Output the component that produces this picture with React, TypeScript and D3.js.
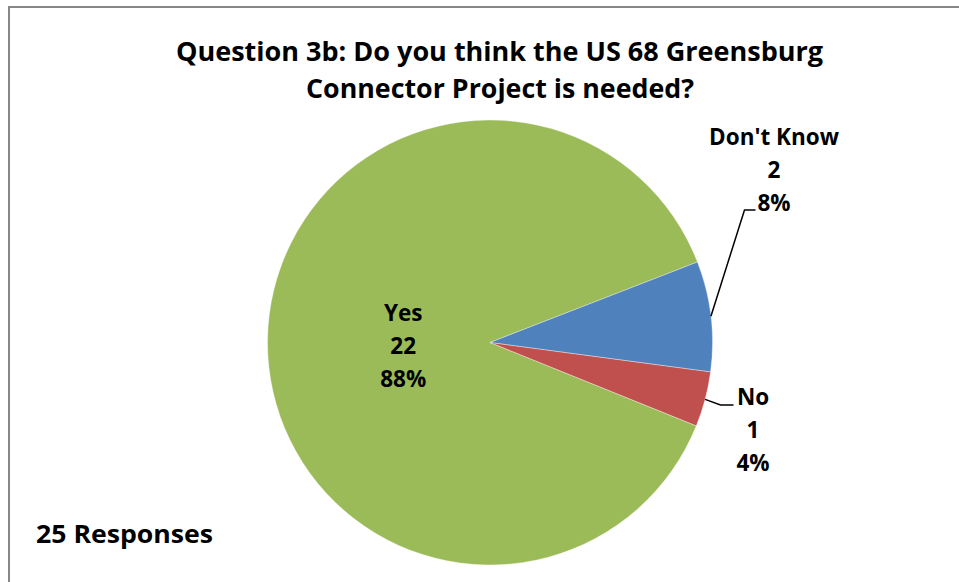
import React from "react";
import * as d3 from "d3";

const categories = ["Yes", "Don't Know", "No"];
const counts = [22, 2, 1];
const percents = ["88%", "8%", "4%"];
const colors = ["#9BBB59", "#4F81BD", "#C0504D"];
const titleLines = ["Question 3b: Do you think the US 68 Greensburg", "Connector Project is needed?"];
const footnote = "25 Responses";

const W = 959;
const H = 582;
const cx = 490;
const cy = 342.5;
const R = 222.5;
const FONT = "'Open Sans', Lato, sans-serif";

export default function App() {
  const pie = d3
    .pie<number>()
    .sort(null)
    .value((d) => d)
    .startAngle((112 * Math.PI) / 180)
    .endAngle((112 * Math.PI) / 180 + 2 * Math.PI);
  const arcs = pie(counts);
  const arc = d3.arc<d3.PieArcDatum<number>>().innerRadius(0).outerRadius(R);
  const edgeArc = d3.arc<d3.PieArcDatum<number>>().innerRadius(R).outerRadius(R);
  const innerLabelArc = d3.arc<d3.PieArcDatum<number>>().innerRadius(R * 0.78).outerRadius(R * 0.0);

  const labelPos: Record<string, { x: number; y: number; line?: [number, number][] }> = {};
  arcs.forEach((a, i) => {
    const cat = categories[i];
    const [ex, ey] = edgeArc.centroid(a);
    if (cat === "Yes") {
      const [lx, ly] = innerLabelArc.centroid(a);
      labelPos[cat] = { x: cx + lx, y: cy + ly - 21 };
    } else if (cat === "Don't Know") {
      const bx = cx + R + 32;
      const by = cy - 132.5;
      labelPos[cat] = {
        x: cx + R + 61.5,
        y: cy - 197.5,
        line: [
          [cx + ex, cy + ey],
          [bx, by],
          [bx + 11, by],
        ],
      };
    } else {
      const bx = cx + R + 8;
      const by = cy + 62.5;
      labelPos[cat] = {
        x: cx + R + 40.5,
        y: cy + 62.5,
        line: [
          [cx + ex, cy + ey],
          [bx, by],
          [bx + 13, by],
        ],
      };
    }
  });

  const lineGen = d3.line();

  return (
    <svg
      width={W}
      height={H}
      style={{ position: "absolute", left: 0, top: 0, background: "#fff" }}
      fontFamily={FONT}
    >
      <rect x={9} y={7} width={1000} height={700} fill="#fff" stroke="#878787" strokeWidth={2} />
      <text
        x={499.5}
        y={61}
        textAnchor="middle"
        fontSize={27.5}
        fontWeight="bold"
        textLength={647}
        lengthAdjust="spacingAndGlyphs"
      >
        {titleLines[0]}
      </text>
      <text
        x={500}
        y={98}
        textAnchor="middle"
        fontSize={27.5}
        fontWeight="bold"
        textLength={388}
        lengthAdjust="spacingAndGlyphs"
      >
        {titleLines[1]}
      </text>
      <g transform={`translate(${cx},${cy})`}>
        {arcs.map((a, i) => (
          <path key={i} d={arc(a) || ""} fill={colors[i]} stroke="#fff" strokeWidth={0.6} strokeOpacity={0.6} />
        ))}
      </g>
      {arcs.map((a, i) => {
        const cat = categories[i];
        const p = labelPos[cat];
        return (
          <g key={cat}>
            {p.line && <path d={lineGen(p.line) || ""} fill="none" stroke="#000" strokeWidth={1.5} />}
            {[cat, String(counts[i]), percents[i]].map((t, j) => (
              <text
                key={j}
                x={p.x}
                y={p.y + j * 33}
                textAnchor="middle"
                fontSize={22.5}
                fontWeight="bold"
                fill="#000"
              >
                {t}
              </text>
            ))}
          </g>
        );
      })}
      <text x={36} y={543} fontSize={25} fontWeight="bold" textLength={177} lengthAdjust="spacingAndGlyphs">
        {footnote}
      </text>
    </svg>
  );
}
